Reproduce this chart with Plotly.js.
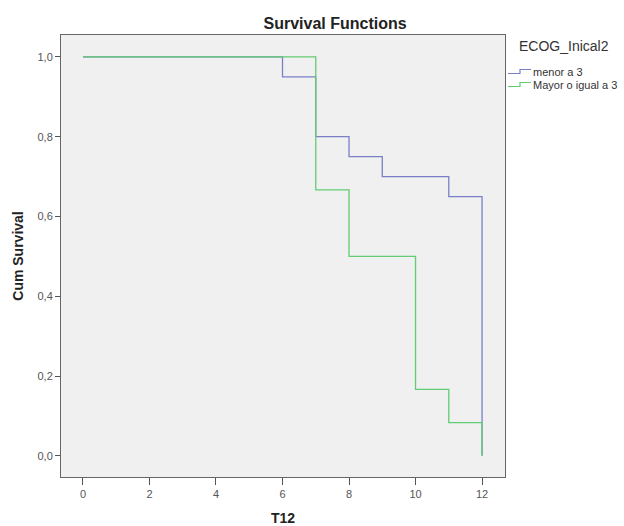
<!DOCTYPE html>
<html>
<head>
<meta charset="utf-8">
<script src="https://cdn.plot.ly/plotly-3.0.1.min.js"></script>
<style>html,body{margin:0;padding:0;background:#fff;}#chart{width:624px;height:526px;}</style>
</head>
<body>
<div id="chart"></div>
<script>
// Kaplan-Meier step data
const groupNames = ["menor a 3", "Mayor o igual a 3"];
const groupColors = ["#7a80c8", "#62cc72"];
const legendTitle = "ECOG_Inical2";
const timeLow = [0, 6, 7, 8, 9, 11, 12];
const survLow = [1.0, 0.95, 0.80, 0.75, 0.70, 0.65, 0.0];
const timeHigh = [0, 7, 8, 10, 11, 12];
const survHigh = [1.0, 0.6667, 0.50, 0.1667, 0.0833, 0.0];
const xTicks = [0, 2, 4, 6, 8, 10, 12];
const yTicks = [0.0, 0.2, 0.4, 0.6, 0.8, 1.0];
const yTickText = ["0,0", "0,2", "0,4", "0,6", "0,8", "1,0"];

const fontFam = '"Liberation Sans", Arial, sans-serif';
const M = {l: 61, r: 119, t: 35, b: 49};
const W = 624, H = 526;
const PW = W - M.l - M.r, PH = H - M.t - M.b;
const px = v => (v - M.l) / PW;       // pixel -> paper x
const py = v => 1 - (v - M.t) / PH;   // pixel -> paper y

const traces = [
  {x: timeLow, y: survLow, name: groupNames[0], mode: 'lines', line: {shape: 'hv', color: groupColors[0], width: 1.3}},
  {x: timeHigh, y: survHigh, name: groupNames[1], mode: 'lines', line: {shape: 'hv', color: groupColors[1], width: 1.3}}
];

// custom legend (SPSS style, placed in right margin)
const annotations = [
  {text: legendTitle, xref: 'paper', yref: 'paper', x: px(564), y: py(46), xanchor: 'center', yanchor: 'middle',
   showarrow: false, font: {family: fontFam, size: 14, color: '#333'}}
];
const shapes = [];
const rowY = [72, 85];
groupNames.forEach((name, i) => {
  const yc = rowY[i];
  annotations.push({text: name, xref: 'paper', yref: 'paper', x: px(531), y: py(yc), xanchor: 'left', yanchor: 'middle',
    showarrow: false, font: {family: fontFam, size: 11, color: '#333'}});
  shapes.push({type: 'path', xref: 'paper', yref: 'paper',
    path: `M ${px(508)} ${py(yc + 1.5)} L ${px(520)} ${py(yc + 1.5)} L ${px(520)} ${py(yc - 2.5)} L ${px(531)} ${py(yc - 2.5)}`,
    line: {color: groupColors[i], width: 1.2}});
});

const layout = {
  width: W, height: H,
  margin: M,
  paper_bgcolor: '#ffffff',
  plot_bgcolor: '#f0f0f0',
  font: {family: fontFam, size: 11, color: '#444'},
  title: {text: '<b>Survival Functions</b>', font: {family: fontFam, size: 16, color: '#222'},
          xref: 'container', yref: 'container', x: 0.537, y: 0.956, xanchor: 'center', yanchor: 'middle'},
  xaxis: {
    range: [-0.66, 12.69], tickvals: xTicks, ticks: 'outside', ticklen: 7, tickcolor: '#555',
    showgrid: false, zeroline: false, showline: true, linecolor: '#666', linewidth: 1, mirror: true,
    tickfont: {family: fontFam, size: 11, color: '#555'},
    title: {text: '<b>T12</b>', font: {family: fontFam, size: 14, color: '#222'}, standoff: 15}
  },
  yaxis: {
    range: [-0.053, 1.055], tickvals: yTicks, ticktext: yTickText, ticks: 'outside', ticklen: 5, tickcolor: '#555',
    showgrid: false, zeroline: false, showline: true, linecolor: '#666', linewidth: 1, mirror: true,
    tickfont: {family: fontFam, size: 11, color: '#555'},
    title: {text: '<b>Cum Survival</b>', font: {family: fontFam, size: 14, color: '#222'}, standoff: 10}
  },
  showlegend: false,
  annotations: annotations,
  shapes: shapes
};

Plotly.newPlot('chart', traces, layout, {displayModeBar: false, staticPlot: true});
</script>
</body>
</html>
